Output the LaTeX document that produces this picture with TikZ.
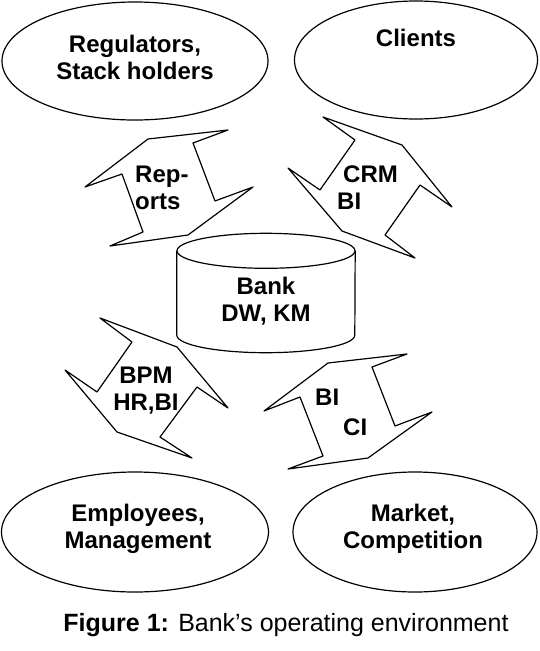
\documentclass[tikz,border=0pt]{standalone}
\usepackage{fontspec}
\setmainfont{Liberation Sans}
\usetikzlibrary{shapes.geometric}

\begin{document}
\begin{tikzpicture}[
  x=1pt, y=-1pt,
  party/.style={draw, ellipse, line width=1.2pt, inner sep=0pt,
    minimum width=#1, minimum height=118pt},
  party/.default=266pt,
  store/.style={draw, fill=white, line width=1.2pt},
  flow/.style={draw, fill=white, line width=1.2pt, line join=round},
  tag/.style={font=\bfseries\fontsize{24}{27}\selectfont, inner sep=0pt, align=center}
]
  \useasboundingbox (0,0) rectangle (540,651);
  % the bank and the parties around it
  \node[party] (regulators) at (135,61) {};
  \node[party=243pt] (clients) at (416,60) {};
  \node[party=267pt, minimum height=120pt] (staff) at (135,532) {};
  \node[party=244pt, minimum height=120pt] (market) at (415,532) {};
  \node[inner sep=0pt, minimum width=178pt, minimum height=84pt] (bank) at (266,293) {};
  \draw[store] (bank.north west) -- (bank.south west)
    arc[start angle=180, end angle=360, x radius=89pt, y radius=17.5pt]
    -- (bank.north east);
  \draw[store] (bank.north) ellipse[x radius=89pt, y radius=17.5pt];
  \node[tag] (regulatorstext) at (135,57) {Regulators,\\Stack holders};
  \node[tag] (clientstext) at (416,38) {Clients};
  \node[tag] (stafftext) at (138,529) {Employees,\\Management};
  \node[tag] (markettext) at (413,529) {Market,\\Competition};
  \node[tag] (banktext) at (266,301) {Bank\\DW, KM};
  % two-way block arrows
  \draw[flow] (228,130) -- (148,139) -- (85,187) -- (122,174) -- (143,232)
    -- (110,246) -- (188,235) -- (253,187) -- (215,201) -- (193,143) -- cycle;
  \draw[flow] (323,117) -- (402,145) -- (452,207) -- (420,185) -- (385,235)
    -- (415,258) -- (342,231) -- (288,168) -- (320,190) -- (355,140) -- cycle;
  \draw[flow] (100,318) -- (177,347) -- (228,408) -- (197,387) -- (160,437)
    -- (192,458) -- (117,432) -- (65,370) -- (97,392) -- (132,342) -- cycle;
  \draw[flow] (407,354) -- (328,363) -- (264,411) -- (300,397) -- (323,456)
    -- (288,469) -- (368,458) -- (432,412) -- (395,426) -- (372,367) -- cycle;
  \node[tag, align=left, anchor=west] (reportstext) at (135,188) {Rep-\\orts};
  \node[tag, align=left, anchor=west] (crmtext) at (337,188) {\hspace*{6pt}CRM\\BI};
  \node[tag] (bpmtext) at (146,391) {BPM\\HR,BI};
  \node[tag, anchor=base west] (bitext) at (315,405) {BI};
  \node[tag, anchor=base west] (citext) at (343,435) {CI};
  % caption
  \node[anchor=base, inner sep=0pt, font=\fontsize{25}{30}\selectfont]
    (caption) at (286,631) {\textbf{Figure 1:} Bank's operating environment};
\end{tikzpicture}
\end{document}
